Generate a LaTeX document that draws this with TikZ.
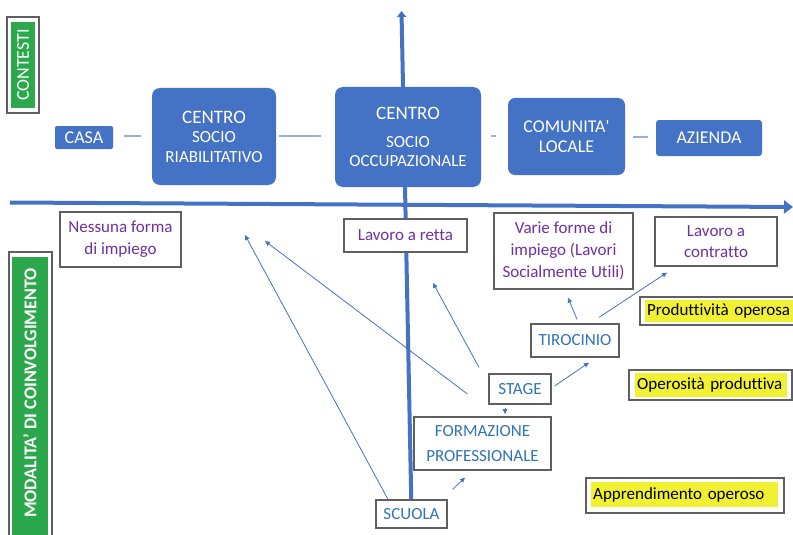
\documentclass[tikz,border=0pt]{standalone}
\usepackage{fontspec}
\setmainfont{Carlito}[Ligatures={TeXOff,NoCommon}]
\usetikzlibrary{arrows.meta,calc}
\definecolor{obl}{RGB}{68,114,196}
\definecolor{lbl}{RGB}{150,175,222}
\definecolor{tbl}{RGB}{46,117,182}
\definecolor{purp}{RGB}{112,48,160}
\definecolor{grn}{RGB}{44,168,76}
\definecolor{hly}{RGB}{242,240,50}
\definecolor{bord}{RGB}{95,95,95}
\tikzset{
  topbox/.style={fill=obl, text=white, inner sep=0pt, align=center, font=\fontsize{17}{19.5}\selectfont},
  lowbox/.style={draw=bord, line width=1.2pt, fill=white, inner sep=0pt, align=center, font=\fontsize{17}{22}\selectfont},
  purptext/.style={text=purp},
  bluetext/.style={text=tbl},
  hlbox/.style={fill=hly, inner xsep=2pt, inner ysep=0pt, align=left, text=black, font=\fontsize{17}{20}\selectfont},
  axisline/.style={draw=obl, line width=4pt},
  thinarrow/.style={draw=obl, line width=0.8pt, -{Triangle[length=5pt,width=4.5pt]}},
  toplink/.style={draw=lbl, line width=2pt},
  sidebox/.style={draw=bord, line width=1.2pt},
  sidelabel/.style={fill=grn, text=white, rotate=90, inner sep=0pt}
}
\begin{document}
\begin{tikzpicture}[x=1pt,y=-1pt]
\useasboundingbox (0,0) rectangle (793,535);
\clip (0,0) rectangle (793,535);
\fill[white] (0,0) rectangle (793,535);

% axes (drawn first, behind boxes)
\coordinate (vtop) at (401.5,11);
\coordinate (vbot) at (411.5,512);
\coordinate (hleft) at (10,202.5);
\coordinate (hright) at (793,207);
\draw[axisline, -{Triangle[length=6pt,width=9pt]}] (vbot) -- (vtop);
\draw[axisline, -{Triangle[length=9pt,width=13pt]}] (hleft) -- (hright);

% side labels
\draw[sidebox] (7,17) rectangle (39,113);
\node[sidelabel, minimum width=86, minimum height=24, font=\fontsize{18}{20}\selectfont] (ctx) at (23,65) {CONTESTI};
\draw[sidebox] (9,252) rectangle (52,545);
\fill[grn] (12,257) rectangle (48,545);
\node[sidelabel, font=\fontsize{18}{20}\selectfont\bfseries] (mod) at (30,393) {MODALITA’ DI COINVOLGIMENTO};

% top row
\node[topbox, rounded corners=2, minimum width=58, minimum height=23, font=\fontsize{18}{20}\selectfont] (casa) at (84,137.5) {CASA};
\node[topbox, rounded corners=8, minimum width=124, minimum height=97] (csr) at (214,136.5) {{\fontsize{19}{20}\selectfont CENTRO}\\SOCIO\\RIABILITATIVO};
\node[topbox, rounded corners=8, minimum width=146, minimum height=100] (cso) at (408,137) {{\fontsize{19}{20}\selectfont CENTRO}\\[8pt]SOCIO\\OCCUPAZIONALE};
\node[topbox, rounded corners=7, minimum width=117, minimum height=77, font=\fontsize{18}{20}\selectfont] (cl) at (566.5,136.5) {COMUNITA'\\LOCALE};
\node[topbox, rounded corners=3, minimum width=106, minimum height=36, font=\fontsize{18}{20}\selectfont] (az) at (709,138) {AZIENDA};

\draw[toplink, shorten <=11pt, shorten >=11pt] (casa.east |- 0,136) -- (csr.west |- 0,136);
\draw[toplink, shorten <=3pt, shorten >=14pt] (csr.east |- 0,136) -- (cso.west |- 0,136);
\draw[toplink, shorten <=10pt, shorten >=12pt] (cso.east |- 0,136) -- (cl.west |- 0,136);
\draw[toplink, shorten <=8pt, shorten >=8pt] (cl.east |- 0,137) -- (az.west |- 0,137);

% lower boxes
\node[lowbox, purptext, minimum width=121, minimum height=55] (nessuna) at (120.5,239.5) {Nessuna forma\\di impiego};
\node[lowbox, purptext, minimum width=123, minimum height=33] (retta) at (405.5,235.5) {Lavoro a retta};
\node[lowbox, purptext, minimum width=139, minimum height=76] (varie) at (563.5,251) {Varie forme di\\impiego (Lavori\\Socialmente Utili)};
\node[lowbox, purptext, minimum width=122, minimum height=49, font=\fontsize{17}{21}\selectfont] (contratto) at (716,241.5) {Lavoro a\\contratto};

\node[lowbox, minimum width=157, minimum height=28] (prodop) at (718.5,311) {};
\node[hlbox, anchor=west, text width=147pt, minimum height=22] (prodoptxt) at (645,311) {Produttività operosa};

\node[lowbox, bluetext, minimum width=88, minimum height=33] (tirocinio) at (575,340.5) {TIROCINIO};

\node[lowbox, minimum width=163, minimum height=30] (operprod) at (710.5,385) {};
\node[hlbox, anchor=west, text width=148pt, minimum height=24] (operprodtxt) at (635,385) {Operosità produttiva};

\node[lowbox, bluetext, minimum width=62, minimum height=30] (stage) at (520,389) {STAGE};
\node[lowbox, bluetext, minimum width=137, minimum height=53, font=\fontsize{17}{25}\selectfont] (formaz) at (482.5,443.5) {FORMAZIONE\\PROFESSIONALE};

\node[lowbox, minimum width=198, minimum height=35] (apprend) at (685,495.5) {};
\node[hlbox, anchor=west, text width=183pt, minimum height=25] (apprendtxt) at (591,494.5) {Apprendimento operoso};

\node[lowbox, bluetext, minimum width=71, minimum height=28] (scuola) at (411.5,514) {SCUOLA};

% thin arrows
\coordinate (t1) at (245,235);
\coordinate (t2) at (265,241);
\coordinate (t3) at (433,283);
\draw[thinarrow] ($(scuola.north)+(-23.5,0)$) -- (t1);
\draw[thinarrow] ($(stage.west)+(-21,5)$) -- (t2);
\draw[thinarrow] ($(stage.north)+(-41,-6)$) -- (t3);
\draw[thinarrow] ($(stage.south)+(-15,3)$) -- ($(stage.south)+(-15,9.5)$);
\draw[thinarrow] ($(scuola.north east)+(5,-10)$) -- ($(formaz.south)+(-17.5,7)$);
\draw[thinarrow] ($(stage.east)+(3,-3)$) -- ($(tirocinio.south)+(14,5)$);
\draw[thinarrow] ($(tirocinio.north)+(2,-4)$) -- ($(varie.south)+(4.5,8)$);
\draw[thinarrow] ($(tirocinio.north)+(24,-6)$) -- ($(contratto.south)+(-49,6)$);
\end{tikzpicture}
\end{document}
